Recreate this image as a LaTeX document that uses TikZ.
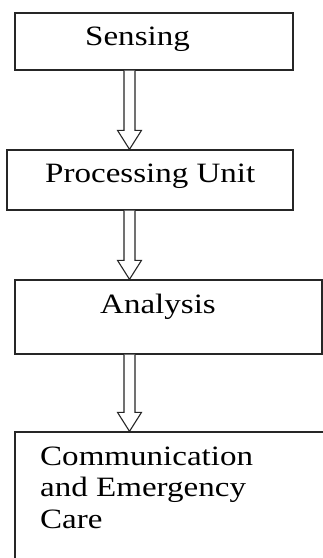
\documentclass[tikz,border=0pt]{standalone}
\usepackage{fontspec}
\setmainfont{Liberation Serif}[FakeStretch=1.18]
\usetikzlibrary{calc}
\tikzset{
  box/.style={draw=black!85, line width=1.3pt, rectangle, inner sep=0pt},
  lbl/.style={font=\fontsize{28}{31.5}\selectfont, inner sep=0pt, anchor=base west},
  arr/.style={draw=black!85, line width=1.1pt, line join=miter, fill=white}
}
\begin{document}
\begin{tikzpicture}[x=1pt,y=1pt]
\useasboundingbox (0,0) rectangle (323,-558);
\clip (0,0) rectangle (323,-558);
\fill[white] (0,0) rectangle (323,-558);
\coordinate (ax) at (129.5,0);
% boxes
\node[box, minimum width=278pt, minimum height=57pt] (b1) at (154,-41.5) {};
\node[box, minimum width=286pt, minimum height=60pt] (b2) at (150,-180) {};
\node[box, minimum width=307pt, minimum height=74pt] (b3) at (168.5,-317) {};
\node[box, minimum width=340pt, minimum height=200pt] (b4) at (185,-532) {};
% labels
\node[lbl] (t1) at (85,-45) {Sensing};
\node[lbl] (t2) at (45,-182) {Processing Unit};
\node[lbl] (t3) at (100,-313) {Analysis};
\node[lbl] (t4) at (40,-465) {\parbox[t]{260pt}{\fontsize{28}{31.5}\selectfont\raggedright Communication\\and Emergency\\Care}};
% arrows
\foreach \a/\b in {b1/b2, b2/b3, b3/b4}{
  \draw[arr] ($(\a.south -| ax)+(-5.5,0)$) -- ($(\b.north -| ax)+(-5.5,19)$)
    -- ($(\b.north -| ax)+(-12,19)$) -- (\b.north -| ax)
    -- ($(\b.north -| ax)+(12,19)$) -- ($(\b.north -| ax)+(5.5,19)$)
    -- ($(\a.south -| ax)+(5.5,0)$);
}
\end{tikzpicture}
\end{document}
